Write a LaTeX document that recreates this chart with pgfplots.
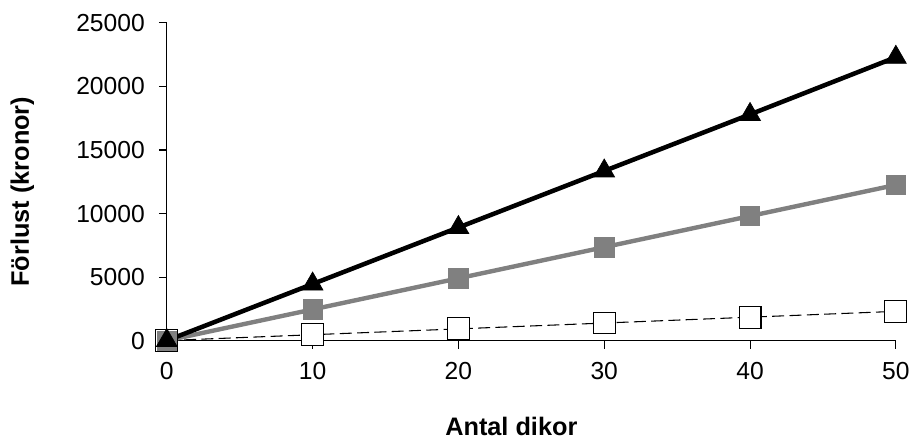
\documentclass[border=0pt]{standalone}
\usepackage{fontspec}
\setmainfont{Liberation Sans}
\usepackage{pgfplots}
\pgfplotsset{compat=1.18}
\definecolor{mygray}{RGB}{128,128,128}
\begin{document}
\begin{tikzpicture}
\begin{axis}[
  at={(0,0)}, anchor=south west,
  scale only axis,
  width=547.5pt, height=238.5pt,
  xmin=0, xmax=50, ymin=0, ymax=25000,
  xtick={0,10,20,30,40,50},
  ytick={0,5000,10000,15000,20000,25000},
  axis x line*=bottom, axis y line*=left,
  axis line style={line width=0.8pt},
  tick style={black, line width=0.8pt},
  tick align=outside,
  major tick length=6pt,
  scaled y ticks=false,
  /pgf/number format/1000 sep={},
  /pgf/number format/assume math mode=true,
  tick label style={font=\fontsize{18.5}{22}\selectfont},
  yticklabel style={xshift=-7pt},
  xticklabel style={yshift=-7pt},
  xlabel={\textbf{Antal dikor}},
  ylabel={\textbf{Förlust (kronor)}},
  label style={font=\fontsize{19}{23}\selectfont},
  xlabel style={at={(axis description cs:0.4726,0)}, anchor=center, yshift=-64.5pt},
  ylabel style={at={(axis description cs:-0.198,0.469)}, anchor=center},
  clip=false,
]
\addplot[black, line width=0.8pt, dash pattern=on 9pt off 4pt,
  mark=square*, mark size=8.2pt, mark options={solid, fill=white, draw=black, line width=0.8pt}]
  coordinates {(0,0) (10,460) (20,920) (30,1380) (40,1840) (50,2300)};
\addplot[mygray, line width=3.3pt,
  mark=square*, mark size=7.3pt, mark options={solid, fill=mygray, draw=mygray, line width=0.5pt}]
  coordinates {(0,0) (10,2450) (20,4900) (30,7350) (40,9800) (50,12250)};
\addplot[black, line width=3.4pt,
  mark=triangle*, mark size=9pt, mark options={solid, fill=black, line width=0.5pt}]
  coordinates {(0,0) (10,4450) (20,8900) (30,13350) (40,17800) (50,22300)};
\end{axis}
\path[use as bounding box] (-125.25pt,-73.5pt) rectangle (560.25pt,255.75pt);
\end{tikzpicture}
\end{document}
